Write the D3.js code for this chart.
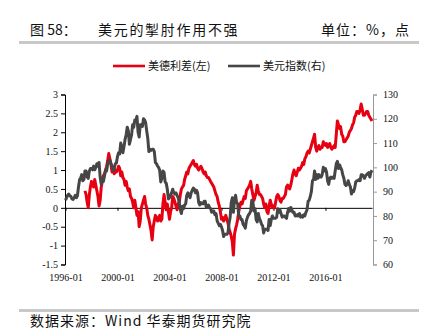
<!DOCTYPE html>
<html>
<head>
<meta charset="utf-8">
<script src="https://cdn.jsdelivr.net/npm/d3@7/dist/d3.min.js"></script>
<style>
  html, body { margin: 0; padding: 0; background: #fff; }
  svg { display: block; }
</style>
</head>
<body>
<svg id="chart" width="425" height="331"></svg>
<script>
// 美元指数：1996-01 起的月度数据（右轴）
const dxyStart = [1996, 0];
const dxyValues = [
  // 1996
  86.5, 87.5, 88.5, 89.0, 88.3, 88.0, 87.0, 86.8, 87.5, 88.5, 87.5, 88.3,
  // 1997
  92.0, 95.0, 95.5, 97.0, 94.5, 95.0, 98.5, 98.5, 96.0, 95.5, 98.5, 99.5,
  // 1998
  99.5, 99.0, 100.5, 99.0, 100.0, 101.5, 100.5, 102.0, 96.0, 93.0, 95.5, 94.2,
  // 1999
  96.5, 99.0, 98.5, 101.5, 102.5, 103.0, 101.5, 100.5, 98.5, 99.5, 101.5, 101.8,
  // 2000
  104.5, 106.0, 105.5, 110.0, 108.5, 106.0, 108.5, 111.5, 113.5, 116.5, 115.0, 109.5,
  // 2001
  111.5, 113.5, 117.5, 116.5, 119.5, 119.5, 121.0, 114.5, 112.5, 117.5, 117.5, 116.8,
  // 2002
  120.0, 119.5, 118.5, 115.0, 112.0, 106.5, 107.5, 107.0, 107.5, 107.5, 106.5, 102.0,
  // 2003
  101.5, 100.5, 100.0, 98.8, 94.0, 95.5, 98.5, 98.0, 94.0, 93.5, 91.0, 87.0,
  // 2004
  87.5, 88.5, 89.5, 91.0, 89.5, 89.0, 89.5, 88.5, 87.5, 85.5, 82.5, 81.0,
  // 2005
  84.0, 83.0, 84.5, 85.0, 88.5, 89.5, 88.5, 87.5, 89.5, 90.5, 91.5, 91.0,
  // 2006
  89.5, 90.5, 89.5, 85.5, 84.5, 85.5, 85.0, 85.0, 86.0, 86.0, 83.5, 83.5,
  // 2007
  84.5, 83.5, 83.0, 81.5, 82.0, 82.0, 80.5, 81.0, 78.0, 77.0, 76.0, 76.5,
  // 2008
  75.5, 74.0, 71.5, 72.5, 72.5, 72.5, 73.0, 77.0, 79.5, 85.5, 87.5, 81.5,
  // 2009
  86.5, 88.5, 85.5, 85.0, 80.0, 80.0, 78.5, 78.5, 76.5, 76.0, 75.0, 78.0,
  // 2010
  79.5, 80.5, 81.0, 82.0, 86.5, 86.0, 82.0, 83.0, 78.5, 77.5, 81.0, 79.0,
  // 2011
  78.0, 76.5, 76.0, 73.0, 74.5, 74.5, 74.5, 74.0, 78.5, 76.0, 78.5, 80.0,
  // 2012
  79.0, 79.0, 79.0, 79.5, 83.0, 81.5, 82.5, 81.0, 79.5, 80.0, 80.0, 79.5,
  // 2013
  79.0, 81.5, 83.0, 82.0, 83.5, 82.5, 81.5, 81.5, 80.0, 80.0, 80.5, 80.0,
  // 2014
  81.0, 79.5, 80.0, 79.5, 80.5, 80.0, 81.5, 82.5, 86.0, 86.5, 88.0, 90.0,
  // 2015
  94.5, 95.0, 98.5, 95.0, 97.0, 95.5, 97.0, 96.0, 96.0, 97.0, 100.0, 98.5,
  // 2016
  99.5, 98.0, 94.5, 93.0, 95.5, 96.0, 95.5, 96.0, 95.5, 98.5, 101.5, 102.5,
  // 2017
  99.5, 101.0, 100.0, 99.0, 97.0, 95.5, 93.0, 92.5, 93.0, 94.5, 93.0, 92.0,
  // 2018
  89.0, 90.5, 90.0, 91.5, 94.0, 94.5, 94.5, 95.0, 94.5, 97.0, 97.0, 96.5,
  // 2019
  95.5, 96.5, 97.0, 97.5, 97.8, 96.0, 98.0, 98.8
];

// 美德10年期国债利差：1997-07 起的月度数据（左轴，%）
const spreadStart = [1997, 6];
const spreadValues = [
  // 1997 (7-12)
  0.45, 0.35, 0.15, 0.0, 0.35, 0.55,
  // 1998
  0.7, 0.65, 0.55, 0.75, 0.6, 0.45, 0.3, 0.05, 0.2, 0.55, 0.7, 0.85,
  // 1999
  0.9, 1.0, 1.1, 1.25, 1.44, 1.3, 1.15, 0.95, 1.05, 0.9, 1.0, 0.95,
  // 2000
  1.0, 1.1, 1.05, 0.85, 0.95, 0.8, 0.75, 0.6, 0.7, 0.55, 0.45, 0.5,
  // 2001
  0.3, 0.25, 0.15, 0.0, 0.2, 0.0, -0.2, -0.1, -0.5, -0.35, 0.0, 0.1,
  // 2002
  0.2, 0.3, 0.1, 0.0, -0.2, -0.3, -0.45, -0.6, -0.85, -0.5, -0.35, -0.2,
  // 2003
  -0.25, -0.35, -0.3, -0.2, -0.35, -0.3, 0.1, 0.35, 0.15, -0.05, 0.1, -0.1,
  // 2004
  -0.3, -0.1, 0.0, 0.3, 0.25, 0.15, 0.05, -0.05, 0.1, 0.15, 0.35, 0.5,
  // 2005
  0.55, 0.6, 0.75, 0.85, 0.95, 0.9, 1.05, 1.1, 1.15, 1.2, 1.25, 1.15,
  // 2006
  1.1, 1.15, 1.05, 1.0, 1.05, 1.1, 1.05, 0.95, 0.9, 0.95, 0.85, 0.8,
  // 2007
  0.8, 0.75, 0.7, 0.65, 0.6, 0.55, 0.45, 0.35, 0.3, 0.15, 0.05, -0.1,
  // 2008
  -0.3, -0.25, -0.35, -0.3, -0.2, -0.3, -0.4, -0.55, -0.65, -0.75, -0.9, -1.25,
  // 2009
  -0.7, -0.55, -0.45, -0.3, -0.1, 0.05, 0.15, 0.1, 0.2, 0.3, 0.25, 0.45,
  // 2010
  0.5, 0.55, 0.6, 0.7, 0.5, 0.35, 0.2, 0.3, 0.4, 0.6, 0.45, 0.35,
  // 2011
  0.35, 0.3, 0.25, 0.1, 0.0, 0.1, -0.1, -0.15, 0.05, 0.2, 0.1, 0.0,
  // 2012
  0.05, 0.0, 0.15, 0.3, 0.35, 0.3, 0.2, 0.15, 0.25, 0.25, 0.3, 0.35,
  // 2013
  0.55, 0.6, 0.55, 0.5, 0.6, 0.75, 0.9, 1.0, 0.9, 0.85, 0.95, 1.05,
  // 2014
  1.0, 1.05, 1.1, 1.2, 1.15, 1.3, 1.35, 1.45, 1.5, 1.45, 1.55, 1.65,
  // 2015
  1.75, 1.85, 1.95, 1.6, 1.5, 1.6, 1.65, 1.55, 1.6, 1.6, 1.75, 1.7,
  // 2016
  1.65, 1.7, 1.6, 1.65, 1.7, 1.6, 1.55, 1.6, 1.65, 1.6, 1.95, 2.3,
  // 2017
  2.2, 2.1, 2.15, 1.95, 1.9, 1.75, 1.75, 1.8, 1.85, 1.9, 2.0, 2.05,
  // 2018
  2.1, 2.2, 2.25, 2.4, 2.45, 2.55, 2.55, 2.5, 2.6, 2.75, 2.6, 2.45,
  // 2019
  2.45, 2.5, 2.55, 2.55, 2.45, 2.4, 2.35, 2.3
];

// 轴刻度
const leftTicks = [-1.5, -1, -0.5, 0, 0.5, 1, 1.5, 2, 2.5, 3];
const rightTicks = [60, 70, 80, 90, 100, 110, 120, 130];
const xTickLabels = ["1996-01", "2000-01", "2004-01", "2008-01", "2012-01", "2016-01"];

const seriesNames = ["美德利差(左)", "美元指数(右)"];
const seriesColors = ["#e60012", "#464646"];

// 把月度数组转成 {date, value}
function toSeries(start, values) {
  const d0 = new Date(start[0], start[1], 1);
  return values.map((v, i) => ({ date: d3.timeMonth.offset(d0, i), value: v }));
}
const spread = toSeries(spreadStart, spreadValues);
const dxy = toSeries(dxyStart, dxyValues);

const svg = d3.select("#chart");
const serif = "'Liberation Serif', 'Times New Roman', serif";
const cjk = "'Noto Sans CJK SC', 'Liberation Serif', sans-serif";

// 标题区
svg.append("text").attr("x", 30).attr("y", 35)
  .attr("font-family", cjk).attr("font-size", 14).attr("fill", "#111")
  .text("图 58：");
svg.append("text").attr("x", 98).attr("y", 35)
  .attr("font-family", cjk).attr("font-size", 14).attr("fill", "#111")
  .attr("letter-spacing", 1.7)
  .text("美元的掣肘作用不强");
svg.append("text").attr("x", 410).attr("y", 35).attr("text-anchor", "end")
  .attr("font-family", cjk).attr("font-size", 14).attr("fill", "#111")
  .attr("letter-spacing", 1)
  .text("单位：%，点");
svg.append("rect").attr("x", 19).attr("y", 41).attr("width", 400).attr("height", 3)
  .attr("fill", "#c8c8c8");

// 底部来源
svg.append("rect").attr("x", 19).attr("y", 309).attr("width", 400).attr("height", 3)
  .attr("fill", "#c8c8c8");
svg.append("text").attr("x", 30).attr("y", 326)
  .attr("font-family", cjk).attr("font-size", 14).attr("fill", "#111")
  .attr("letter-spacing", 1)
  .text("数据来源：Wind 华泰期货研究院");

// 比例尺
const x = d3.scaleTime()
  .domain([new Date(1996, 0, 1), new Date(2019, 7, 1)])
  .range([65.5, 372]);
const yL = d3.scaleLinear().domain([-1.5, 3]).range([264.5, 94.5]);
const yR = d3.scaleLinear().domain([60, 130]).range([264.5, 94.5]);

const plain = d => String(d);

// 左轴
const gL = svg.append("g").attr("transform", "translate(65,0)")
  .call(d3.axisLeft(yL).tickValues(leftTicks).tickFormat(plain).tickSize(4).tickPadding(3));
gL.select(".domain").attr("stroke", "#000");
gL.selectAll(".tick line").attr("stroke", "#000");
gL.selectAll("text").attr("font-family", serif).attr("font-size", 10).attr("fill", "#111");

// 右轴
const gR = svg.append("g").attr("transform", "translate(373,0)")
  .call(d3.axisRight(yR).tickValues(rightTicks).tickFormat(plain).tickSize(4).tickPadding(6));
gR.select(".domain").attr("stroke", "#999");
gR.selectAll(".tick line").attr("stroke", "#999");
gR.selectAll("text").attr("font-family", serif).attr("font-size", 10).attr("fill", "#111");

// 横轴：零线上的刻度 + 底部标签
const xTickDates = xTickLabels.map(s => d3.timeParse("%Y-%m")(s));
const gX = svg.append("g").attr("transform", `translate(0,${yL(0)})`)
  .call(d3.axisBottom(x).tickValues(xTickDates).tickFormat("").tickSize(3).tickSizeOuter(0));
gX.select(".domain").attr("stroke", "#000");
gX.selectAll(".tick line").attr("stroke", "#000");

const gXL = svg.append("g").attr("transform", "translate(0,274)")
  .call(d3.axisBottom(x).tickValues(xTickDates).tickFormat(d3.timeFormat("%Y-%m")).tickSize(0).tickPadding(0));
gXL.select(".domain").remove();
gXL.selectAll("text").attr("font-family", serif).attr("font-size", 10).attr("fill", "#111");

// 折线
const lineL = d3.line().x(d => x(d.date)).y(d => yL(d.value));
const lineR = d3.line().x(d => x(d.date)).y(d => yR(d.value));

svg.append("path").datum(spread).attr("d", lineL)
  .attr("fill", "none").attr("stroke", seriesColors[0]).attr("stroke-width", 3)
  .attr("stroke-linejoin", "round");
svg.append("path").datum(dxy).attr("d", lineR)
  .attr("fill", "none").attr("stroke", seriesColors[1]).attr("stroke-width", 3)
  .attr("stroke-linejoin", "round");

// 图例
const legendX = [113, 228];
seriesNames.forEach((name, i) => {
  const g = svg.append("g").attr("transform", `translate(${legendX[i]},66)`);
  g.append("line").attr("x1", 0).attr("x2", 32).attr("y1", 0).attr("y2", 0)
    .attr("stroke", seriesColors[i]).attr("stroke-width", 2.6);
  g.append("text").attr("x", 35).attr("y", 4)
    .attr("font-family", cjk).attr("font-size", 11).attr("fill", "#111")
    .text(name);
});
</script>
</body>
</html>
